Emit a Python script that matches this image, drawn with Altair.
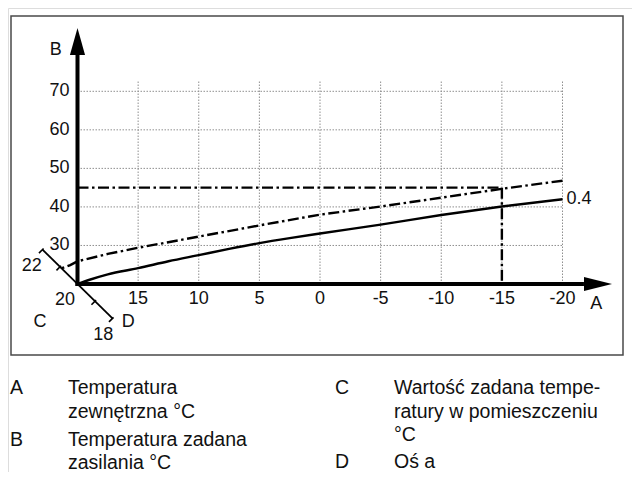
import altair as alt
import pandas as pd

# ---------------- chart values ----------------
x_ticks = [15, 10, 5, 0, -5, -10, -15, -20]
x_tick_labels = ["15", "10", "5", "0", "-5", "-10", "-15", "-20"]
y_ticks = [30, 40, 50, 60, 70]
y_tick_labels = ["30", "40", "50", "60", "70"]

# solid heating curve (slope 0.4, room 20 °C)
solid_T = [20, 19, 17.5, 15, 12.5, 10, 7.5, 5, 2.5, 0, -5, -10, -15, -20]
solid_V = [20.0, 21.1, 22.5, 24.1, 25.9, 27.5, 29.1, 30.6, 31.9, 33.1, 35.4, 37.9, 40.1, 42.0]

# dash-dot heating curve (shifted room set-point)
dash_T = [21.45, 20.6, 20, 17.5, 15, 10, 5, 0, -5, -10, -15, -20]
dash_V = [23.9, 24.9, 25.9, 27.8, 29.4, 32.3, 35.2, 38.0, 40.1, 42.4, 44.7, 46.8]

design_outdoor = -15
design_supply = 45

room_ticks = [22, 21, 20, 19, 18]
curve_label = "0.4"

legend_keys = ["A", "B", "C", "D"]
legend_texts = [
    "Temperatura\nzewnętrzna °C",
    "Temperatura zadana\nzasilania °C",
    "Wartość zadana tempe-\nratury w pomieszczeniu\n°C",
    "Oś a",
]

# ---------------- layout ----------------
W, H = 624, 464
PX0, KX = 320.0, 12.125      # page x of T=0, px per °C
PY20, KY = 284.0, 3.854      # page y of V=20, px per °C
FONT = "Liberation Sans"

t_left = (PX0 - 8) / KX
t_right = (PX0 - 8 - W) / KX
v_top = 20 + (PY20 - 8) / KY
v_bot = 20 - (8 + H - PY20) / KY

xs = alt.Scale(domain=[t_right, t_left], reverse=True, nice=False, zero=False)
ys = alt.Scale(domain=[v_bot, v_top], nice=False, zero=False)


def X(f):
    return alt.X(f, type="quantitative", scale=xs, axis=None)


def Y(f):
    return alt.Y(f, type="quantitative", scale=ys, axis=None)


def X2(f):
    return alt.X2(f)


def Y2(f):
    return alt.Y2(f)


layers = []

# frame
layers.append(
    alt.Chart(pd.DataFrame({"a": [0]})).mark_rect(
        filled=False, stroke="#4a4a4a", strokeWidth=1.5
    ).encode(x=alt.value(3), x2=alt.value(615), y=alt.value(8), y2=alt.value(347))
)

# grid
grid_top = 72.9
gv = pd.DataFrame({"t": x_ticks, "v1": [20] * len(x_ticks), "v2": [grid_top] * len(x_ticks)})
layers.append(
    alt.Chart(gv).mark_rule(stroke="#8f8f8f", strokeWidth=1, strokeDash=[1.5, 1.5]).encode(
        x=X("t"), y=Y("v1"), y2=Y2("v2")
    )
)
gh = pd.DataFrame({"v": y_ticks, "t1": [20] * len(y_ticks), "t2": [-20] * len(y_ticks)})
layers.append(
    alt.Chart(gh).mark_rule(stroke="#8f8f8f", strokeWidth=1, strokeDash=[1.5, 1.5]).encode(
        y=Y("v"), x=X("t1"), x2=X2("t2")
    )
)

DASHDOT = [11, 3.5, 2.5, 3.5]

# curves
layers.append(
    alt.Chart(pd.DataFrame({"t": solid_T, "v": solid_V})).mark_line(
        color="black", strokeWidth=2.4, interpolate="monotone"
    ).encode(x=X("t"), y=Y("v"), order="t:Q")
)
layers.append(
    alt.Chart(pd.DataFrame({"t": dash_T, "v": dash_V})).mark_line(
        color="black", strokeWidth=2.4, strokeDash=DASHDOT
    ).encode(x=X("t"), y=Y("v"), order="t:Q")
)

# design point lines
dl = pd.DataFrame({
    "t1": [20, design_outdoor],
    "t2": [design_outdoor, design_outdoor],
    "v1": [design_supply, design_supply],
    "v2": [design_supply, 20],
})
layers.append(
    alt.Chart(dl).mark_rule(color="black", strokeWidth=2.4, strokeDash=DASHDOT).encode(
        x=X("t1"), x2=X2("t2"), y=Y("v1"), y2=Y2("v2")
    )
)

# C / D diagonal axis (room set-point)
dT, dV = 17.5 / KX, 17.2 / KY
pT, pV = 0.707 / KX, -0.707 / KY
cmax, cmin = max(room_ticks), min(room_ticks)
diag = pd.DataFrame({
    "t1": [20 + (cmax - 20) * dT], "t2": [20 + (cmin - 20) * dT],
    "v1": [20 + (cmax - 20) * dV], "v2": [20 + (cmin - 20) * dV],
})
layers.append(
    alt.Chart(diag).mark_rule(color="black", strokeWidth=1.8).encode(
        x=X("t1"), x2=X2("t2"), y=Y("v1"), y2=Y2("v2")
    )
)
ticks_c = [c for c in room_ticks if c != 20]
tk = pd.DataFrame({
    "t1": [20 + (c - 20) * dT - 1.5 * pT for c in ticks_c],
    "t2": [20 + (c - 20) * dT + 5 * pT for c in ticks_c],
    "v1": [20 + (c - 20) * dV - 1.5 * pV for c in ticks_c],
    "v2": [20 + (c - 20) * dV + 5 * pV for c in ticks_c],
})
layers.append(
    alt.Chart(tk).mark_rule(color="black", strokeWidth=1.6).encode(
        x=X("t1"), x2=X2("t2"), y=Y("v1"), y2=Y2("v2")
    )
)

# main axes
ax = pd.DataFrame({
    "t1": [20.17, 20], "t2": [-21.77, 20],
    "v1": [20, 19.5], "v2": [20, 79.42],
})
layers.append(
    alt.Chart(ax).mark_rule(color="black", strokeWidth=4).encode(
        x=X("t1"), x2=X2("t2"), y=Y("v1"), y2=Y2("v2")
    )
)
layers.append(
    alt.Chart(pd.DataFrame({"t": [-22.93], "v": [20]})).mark_point(
        shape="M-1,-0.5L1,0L-1,0.5Z", size=784, filled=True, color="black", opacity=1
    ).encode(x=X("t"), y=Y("v"))
)
layers.append(
    alt.Chart(pd.DataFrame({"t": [20], "v": [82.92]})).mark_point(
        shape="M0,-1L0.56,1L-0.56,1Z", size=729, filled=True, color="black", opacity=1
    ).encode(x=X("t"), y=Y("v"))
)

# tick labels
layers.append(
    alt.Chart(pd.DataFrame({"t": x_ticks, "lab": x_tick_labels, "v": [20] * len(x_ticks)})).mark_text(
        font=FONT, fontSize=18, dy=15, baseline="middle", align="center", color="#111"
    ).encode(x=X("t"), y=Y("v"), text="lab:N")
)
layers.append(
    alt.Chart(pd.DataFrame({"v": y_ticks, "lab": y_tick_labels, "t": [20] * len(y_ticks)})).mark_text(
        font=FONT, fontSize=18, dx=-8, baseline="middle", align="right", color="#111"
    ).encode(x=X("t"), y=Y("v"), text="lab:N")
)

# annotation labels
ann = pd.DataFrame({
    "t": [23.78, 21.03, 17.87, 23.09, 15.81, 21.79, -22.79],
    "v": [24.67, 15.85, 6.77, 10.22, 10.22, 80.72, 14.81],
    "lab": [str(cmax), "20", str(cmin), "C", "D", "B", "A"],
})
layers.append(
    alt.Chart(ann).mark_text(
        font=FONT, fontSize=18, baseline="middle", align="center", color="#111"
    ).encode(x=X("t"), y=Y("v"), text="lab:N")
)
layers.append(
    alt.Chart(pd.DataFrame({"t": [solid_T[-1]], "v": [solid_V[-1]], "lab": [curve_label]})).mark_text(
        font=FONT, fontSize=18, baseline="middle", align="left", dx=4, color="#111"
    ).encode(x=X("t"), y=Y("v"), text="lab:N")
)

# legend below the frame
key_x = [2, 2, 327, 327]
txt_x = [60, 60, 386, 386]
base_y = [386.3, 437.7, 386.3, 459.7]
for k, t, kx, tx, by in zip(legend_keys, legend_texts, key_x, txt_x, base_y):
    d = pd.DataFrame({"a": [0]})
    layers.append(
        alt.Chart(d).mark_text(
            font=FONT, fontSize=19.5, align="left", baseline="alphabetic", color="#111"
        ).encode(x=alt.value(kx), y=alt.value(by), text=alt.value(k))
    )
    layers.append(
        alt.Chart(d).mark_text(
            font=FONT, fontSize=19.5, align="left", baseline="alphabetic", color="#111",
            lineBreak="\n", lineHeight=23.5
        ).encode(x=alt.value(tx), y=alt.value(by), text=alt.value(t))
    )

chart = alt.layer(*layers).properties(
    width=W, height=H, padding=0, autosize=alt.AutoSizeParams(type="none")
).configure_view(stroke=None).configure(background="white")

chart.save("out.html", embed_options={"renderer": "svg", "actions": False})
